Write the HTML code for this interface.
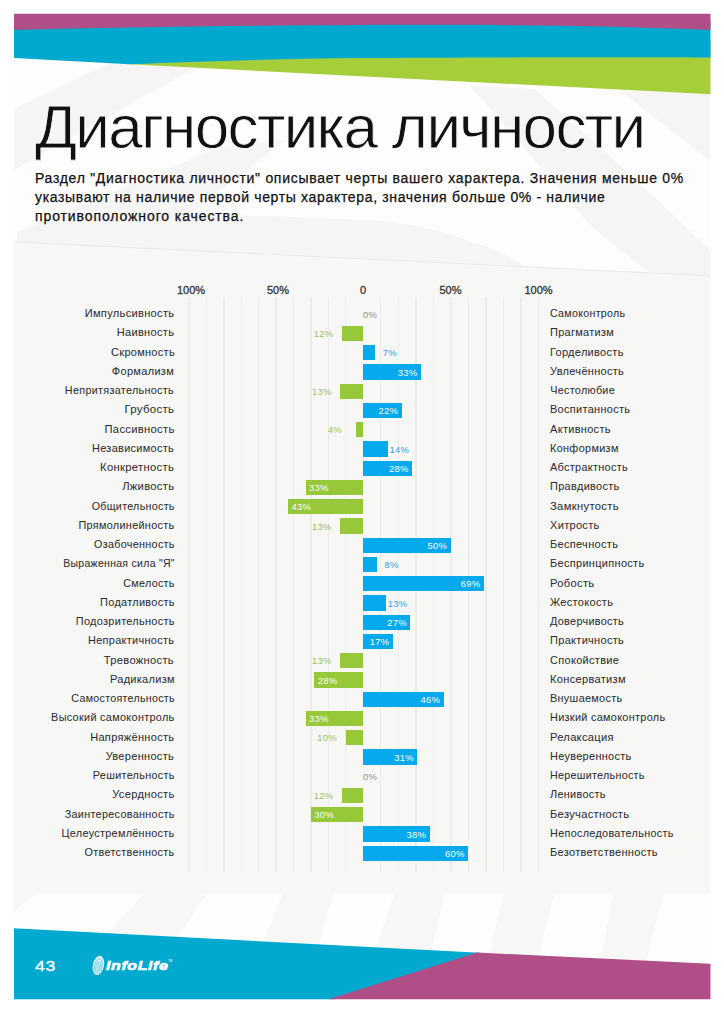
<!DOCTYPE html>
<html><head><meta charset="utf-8"><style>
*{margin:0;padding:0;box-sizing:border-box}
html,body{width:724px;height:1024px;overflow:hidden;background:#fff;font-family:"Liberation Sans",sans-serif}
#pg{position:absolute;left:14px;top:14px;width:696.5px;height:985.5px;background:#f6f6f6;overflow:hidden}
.abs{position:absolute}
svg{position:absolute;left:0;top:0}
.title{position:absolute;left:35px;top:91.5px;font-size:62px;letter-spacing:-1.65px;color:#111;-webkit-text-stroke:0.8px #fafafa;white-space:nowrap;line-height:70px}
.para{position:absolute;left:35px;top:168.7px;font-size:14px;letter-spacing:0.65px;color:#111;-webkit-text-stroke:0.25px #111;line-height:19.2px;white-space:nowrap}
.hd{position:absolute;top:282.8px;font-size:11px;font-weight:normal;-webkit-text-stroke:0.3px #333;color:#333;white-space:nowrap;line-height:14px}
.gl{position:absolute;top:296.5px;height:575px;width:1.4px;background:#ececec}
.ll{position:absolute;right:549.6px;transform-origin:100% 50%;font-size:10.8px;letter-spacing:0.3px;color:#2e2e2e;white-space:nowrap;line-height:13px;-webkit-text-stroke:0.05px #2e2e2e}
.rl{position:absolute;left:550.2px;transform-origin:0 50%;font-size:10.8px;letter-spacing:0.3px;color:#2e2e2e;white-space:nowrap;line-height:13px;-webkit-text-stroke:0.05px #2e2e2e}
.bar{position:absolute;height:15.3px}
.b{background:#05a9ec}
.g{background:#96c83a}
.pi{position:absolute;font-size:9.4px;letter-spacing:0.3px;color:#fff;white-space:nowrap;line-height:12px}
.po{position:absolute;font-size:9.4px;letter-spacing:0.3px;white-space:nowrap;line-height:12px}
.bt{color:#2e9fdc}
.gt{color:#9dbf5c}
.zt{color:#8c8c8c}
.pnum{position:absolute;left:34.5px;top:956.5px;font-size:15.2px;color:#fff;letter-spacing:0.6px;line-height:18px;transform:scaleX(1.17);transform-origin:0 0;-webkit-text-stroke:0.35px #fff}
.logo{position:absolute;left:106px;top:957.5px;font-size:13.3px;font-weight:bold;font-style:italic;color:#fff;letter-spacing:0.5px;line-height:16px;transform:scaleX(1.2);transform-origin:0 0;-webkit-text-stroke:0.6px #fff}
</style></head><body>
<svg width="724" height="1024" viewBox="0 0 724 1024">
 <!-- page bg -->
 <rect x="14" y="14" width="696.5" height="985.5" fill="#fdfdfd"/>
 <g fill="#f5f5f5">
  <polygon points="14,109 112,62 205,62 14,170"/>
  <path d="M470,86 L535,89 C580,130 620,165 646,190 C670,212 695,236 712,252 L712,280 L650,272 C630,258 605,240 584,218 C550,180 510,130 470,86 Z"/>
  <polygon points="621,91 710.5,94 710.5,161"/>
  <path d="M17,242 L17,231.8 L215,149 L285,140 C260,160 220,190 190,214 C260,216 330,218 380,221 C410,224 440,230 460,238 C490,248 510,255 525,267 Z"/>
 </g>
 <polygon points="14,241.5 710.5,275.5 710.5,999 14,999" fill="#f7f7f6"/>
 <line x1="14" y1="241.8" x2="710.5" y2="275.8" stroke="#ebebeb" stroke-width="1.2"/>
 <g fill="#fefefe">
  <polygon points="36.9,893.7 143.6,893.7 47.9,1000 -98,1000"/>
  <polygon points="206.6,893.7 282.2,893.7 241.8,1000 136.7,1000"/>
  <polygon points="333.1,893.7 394.3,893.7 358.2,1000 304.4,1000"/>
  <polygon points="444.5,893.7 503.5,893.7 479,1000 420.6,1000"/>
  <polygon points="554.3,893.7 613,893.7 593,1000 527,1000"/>
  <polygon points="663.7,893.7 730,893.7 730,1000 636,1000"/>
 </g>
 <rect x="0" y="0" width="14" height="1024" fill="#fff"/>
 <rect x="710.5" y="0" width="14" height="1024" fill="#fff"/>
 <!-- top bands -->
 <polygon points="120,40 710.5,40 710.5,94.3 130,64.3 120,63.6" fill="#a6ce3a"/>
 <path d="M14,20 L710.5,20 L710.5,57.5 C600,57 420,57.5 362,58 C280,59 200,61 130,64.3 L14,58 Z" fill="#01a9cf"/>
 <path d="M14,13.7 L710.5,13.7 L710.5,30 C600,25 450,24.5 362,25 C250,25.5 120,27 14,30 Z" fill="#b04e88"/>
 <!-- bottom band -->
 <polygon points="14,928.3 480,952.75 335,999.3 14,999.3" fill="#01a9cf"/>
 <polygon points="477,952.6 710.5,963.8 710.5,999.3 328.5,999.3" fill="#b04e88"/>
</svg>
<div class="title">Диагностика личности</div>
<div class="para"><span style="letter-spacing:0.71px">Раздел "Диагностика личности" описывает черты вашего характера. Значения меньше 0%</span><br><span style="letter-spacing:0.66px">указывают на наличие первой черты характера, значения больше 0% - наличие</span><br><span style="letter-spacing:0.9px">противоположного качества.</span></div>
<div class="gl" style="left:188.30px"></div>
<div class="gl" style="left:205.72px"></div>
<div class="gl" style="left:223.14px"></div>
<div class="gl" style="left:240.56px"></div>
<div class="gl" style="left:257.98px"></div>
<div class="gl" style="left:275.40px"></div>
<div class="gl" style="left:292.82px"></div>
<div class="gl" style="left:310.24px"></div>
<div class="gl" style="left:327.66px"></div>
<div class="gl" style="left:345.08px"></div>
<div class="gl" style="left:380.04px"></div>
<div class="gl" style="left:397.58px"></div>
<div class="gl" style="left:415.12px"></div>
<div class="gl" style="left:432.66px"></div>
<div class="gl" style="left:450.20px"></div>
<div class="gl" style="left:467.74px"></div>
<div class="gl" style="left:485.28px"></div>
<div class="gl" style="left:502.82px"></div>
<div class="gl" style="left:520.36px"></div>
<div class="gl" style="left:537.90px"></div>
<div class="hd" style="left:177px">100%</div>
<div class="hd" style="left:267px">50%</div>
<div class="hd" style="left:360px">0</div>
<div class="hd" style="left:439.5px">50%</div>
<div class="hd" style="left:524.5px">100%</div>
<div class="ll" style="top:307.20px;transform:scaleX(1.0271)">Импульсивность</div>
<div class="rl" style="top:307.20px;transform:scaleX(0.9867)">Самоконтроль</div>
<div class="po zt" style="left:363.00px;top:308.90px">0%</div>
<div class="ll" style="top:326.45px;transform:scaleX(1.0222)">Наивность</div>
<div class="rl" style="top:326.45px;transform:scaleX(1.0148)">Прагматизм</div>
<div class="bar g" style="left:342.10px;top:325.85px;width:20.90px"></div>
<div class="po gt" style="left:313.80px;top:328.15px">12%</div>
<div class="ll" style="top:345.70px;transform:scaleX(1.0148)">Скромность</div>
<div class="rl" style="top:345.70px;transform:scaleX(1.0183)">Горделивость</div>
<div class="bar b" style="left:363.00px;top:345.10px;width:12.28px"></div>
<div class="po bt" style="right:327.22px;top:347.40px">7%</div>
<div class="ll" style="top:364.95px;transform:scaleX(1.0186)">Формализм</div>
<div class="rl" style="top:364.95px;transform:scaleX(1.0183)">Увлечённость</div>
<div class="bar b" style="left:363.00px;top:364.35px;width:57.88px"></div>
<div class="pi" style="left:363.00px;width:54.38px;top:366.65px;text-align:right">33%</div>
<div class="ll" style="top:384.20px;transform:scaleX(1.0019)">Непритязательность</div>
<div class="rl" style="top:384.20px;transform:scaleX(1.0)">Честолюбие</div>
<div class="bar g" style="left:340.35px;top:383.60px;width:22.65px"></div>
<div class="po gt" style="left:312.05px;top:385.90px">13%</div>
<div class="ll" style="top:403.45px;transform:scaleX(1.0556)">Грубость</div>
<div class="rl" style="top:403.45px;transform:scaleX(1.0156)">Воспитанность</div>
<div class="bar b" style="left:363.00px;top:402.85px;width:38.59px"></div>
<div class="pi" style="left:363.00px;width:35.09px;top:405.15px;text-align:right">22%</div>
<div class="ll" style="top:422.70px;transform:scaleX(1.0369)">Пассивность</div>
<div class="rl" style="top:422.70px;transform:scaleX(1.0186)">Активность</div>
<div class="bar g" style="left:356.03px;top:422.10px;width:6.97px"></div>
<div class="po gt" style="left:327.73px;top:424.40px">4%</div>
<div class="ll" style="top:441.95px;transform:scaleX(1.0127)">Независимость</div>
<div class="rl" style="top:441.95px;transform:scaleX(1.0106)">Конформизм</div>
<div class="bar b" style="left:363.00px;top:441.35px;width:24.56px"></div>
<div class="po bt" style="right:314.94px;top:443.65px">14%</div>
<div class="ll" style="top:461.20px;transform:scaleX(1.0406)">Конкретность</div>
<div class="rl" style="top:461.20px;transform:scaleX(1.0092)">Абстрактность</div>
<div class="bar b" style="left:363.00px;top:460.60px;width:49.11px"></div>
<div class="pi" style="left:363.00px;width:45.61px;top:462.90px;text-align:right">28%</div>
<div class="ll" style="top:480.45px;transform:scaleX(1.0367)">Лживость</div>
<div class="rl" style="top:480.45px;transform:scaleX(1.0134)">Правдивость</div>
<div class="bar g" style="left:305.51px;top:479.85px;width:57.49px"></div>
<div class="pi" style="left:309.01px;top:482.15px">33%</div>
<div class="ll" style="top:499.70px;transform:scaleX(0.9915)">Общительность</div>
<div class="rl" style="top:499.70px;transform:scaleX(1.0422)">Замкнутость</div>
<div class="bar g" style="left:288.09px;top:499.10px;width:74.91px"></div>
<div class="pi" style="left:291.59px;top:501.40px">43%</div>
<div class="ll" style="top:518.95px;transform:scaleX(1.0054)">Прямолинейность</div>
<div class="rl" style="top:518.95px;transform:scaleX(1.0213)">Хитрость</div>
<div class="bar g" style="left:340.35px;top:518.35px;width:22.65px"></div>
<div class="po gt" style="left:312.05px;top:520.65px">13%</div>
<div class="ll" style="top:538.20px;transform:scaleX(0.9987)">Озабоченность</div>
<div class="rl" style="top:538.20px;transform:scaleX(1.02)">Беспечность</div>
<div class="bar b" style="left:363.00px;top:537.60px;width:87.70px"></div>
<div class="pi" style="left:363.00px;width:84.20px;top:539.90px;text-align:right">50%</div>
<div class="ll" style="top:557.45px;transform:scaleX(0.9717)">Выраженная сила &quot;Я&quot;</div>
<div class="rl" style="top:557.45px;transform:scaleX(1.0176)">Беспринципность</div>
<div class="bar b" style="left:363.00px;top:556.85px;width:14.03px"></div>
<div class="po bt" style="right:325.47px;top:559.15px">8%</div>
<div class="ll" style="top:576.70px;transform:scaleX(0.994)">Смелость</div>
<div class="rl" style="top:576.70px;transform:scaleX(1.0341)">Робость</div>
<div class="bar b" style="left:363.00px;top:576.10px;width:121.03px"></div>
<div class="pi" style="left:363.00px;width:117.53px;top:578.40px;text-align:right">69%</div>
<div class="ll" style="top:595.95px;transform:scaleX(1.0125)">Податливость</div>
<div class="rl" style="top:595.95px;transform:scaleX(1.0213)">Жестокость</div>
<div class="bar b" style="left:363.00px;top:595.35px;width:22.80px"></div>
<div class="po bt" style="right:316.70px;top:597.65px">13%</div>
<div class="ll" style="top:615.20px;transform:scaleX(1.0125)">Подозрительность</div>
<div class="rl" style="top:615.20px;transform:scaleX(1.0055)">Доверчивость</div>
<div class="bar b" style="left:363.00px;top:614.60px;width:47.36px"></div>
<div class="pi" style="left:363.00px;width:43.86px;top:616.90px;text-align:right">27%</div>
<div class="ll" style="top:634.45px;transform:scaleX(1.012)">Непрактичность</div>
<div class="rl" style="top:634.45px;transform:scaleX(1.0183)">Практичность</div>
<div class="bar b" style="left:363.00px;top:633.85px;width:29.82px"></div>
<div class="pi" style="left:363.00px;width:26.32px;top:636.15px;text-align:right">17%</div>
<div class="ll" style="top:653.70px;transform:scaleX(1.0318)">Тревожность</div>
<div class="rl" style="top:653.70px;transform:scaleX(1.0182)">Спокойствие</div>
<div class="bar g" style="left:340.35px;top:653.10px;width:22.65px"></div>
<div class="po gt" style="left:312.05px;top:655.40px">13%</div>
<div class="ll" style="top:672.95px;transform:scaleX(1.0161)">Радикализм</div>
<div class="rl" style="top:672.95px;transform:scaleX(1.025)">Консерватизм</div>
<div class="bar g" style="left:314.22px;top:672.35px;width:48.78px"></div>
<div class="pi" style="left:317.72px;top:674.65px">28%</div>
<div class="ll" style="top:692.20px;transform:scaleX(0.9874)">Самостоятельность</div>
<div class="rl" style="top:692.20px;transform:scaleX(1.0071)">Внушаемость</div>
<div class="bar b" style="left:363.00px;top:691.60px;width:80.68px"></div>
<div class="pi" style="left:363.00px;width:77.18px;top:693.90px;text-align:right">46%</div>
<div class="ll" style="top:711.45px;transform:scaleX(1.0075)">Высокий самоконтроль</div>
<div class="rl" style="top:711.45px;transform:scaleX(1.0071)">Низкий самоконтроль</div>
<div class="bar g" style="left:305.51px;top:710.85px;width:57.49px"></div>
<div class="pi" style="left:309.01px;top:713.15px">33%</div>
<div class="ll" style="top:730.70px;transform:scaleX(1.0225)">Напряжённость</div>
<div class="rl" style="top:730.70px;transform:scaleX(1.0283)">Релаксация</div>
<div class="bar g" style="left:345.58px;top:730.10px;width:17.42px"></div>
<div class="po gt" style="left:317.28px;top:732.40px">10%</div>
<div class="ll" style="top:749.95px;transform:scaleX(1.02)">Уверенность</div>
<div class="rl" style="top:749.95px;transform:scaleX(1.0127)">Неуверенность</div>
<div class="bar b" style="left:363.00px;top:749.35px;width:54.37px"></div>
<div class="pi" style="left:363.00px;width:50.87px;top:751.65px;text-align:right">31%</div>
<div class="ll" style="top:769.20px;transform:scaleX(1.0025)">Решительность</div>
<div class="rl" style="top:769.20px;transform:scaleX(0.9926)">Нерешительность</div>
<div class="po zt" style="left:363.00px;top:770.90px">0%</div>
<div class="ll" style="top:788.45px;transform:scaleX(1.0305)">Усердность</div>
<div class="rl" style="top:788.45px;transform:scaleX(1.0055)">Ленивость</div>
<div class="bar g" style="left:342.10px;top:787.85px;width:20.90px"></div>
<div class="po gt" style="left:313.80px;top:790.15px">12%</div>
<div class="ll" style="top:807.70px;transform:scaleX(1.0028)">Заинтересованность</div>
<div class="rl" style="top:807.70px;transform:scaleX(1.032)">Безучастность</div>
<div class="bar g" style="left:310.74px;top:807.10px;width:52.26px"></div>
<div class="pi" style="left:314.24px;top:809.40px">30%</div>
<div class="ll" style="top:826.95px;transform:scaleX(1.0045)">Целеустремлённость</div>
<div class="rl" style="top:826.95px;transform:scaleX(1.005)">Непоследовательность</div>
<div class="bar b" style="left:363.00px;top:826.35px;width:66.65px"></div>
<div class="pi" style="left:363.00px;width:63.15px;top:828.65px;text-align:right">38%</div>
<div class="ll" style="top:846.20px;transform:scaleX(1.0)">Ответственность</div>
<div class="rl" style="top:846.20px;transform:scaleX(1.0202)">Безответственность</div>
<div class="bar b" style="left:363.00px;top:845.60px;width:105.24px"></div>
<div class="pi" style="left:363.00px;width:101.74px;top:847.90px;text-align:right">60%</div>
<div class="pnum">43</div>
<div class="logo">InfoLife</div>
<svg width="724" height="1024" style="position:absolute;left:0;top:0"><g transform="rotate(12 98.4 965.4)"><ellipse cx="98.4" cy="965.4" rx="5.6" ry="9.8" fill="#d8f0f8"/><g fill="none" stroke="#5fc0de" stroke-width="0.7"><ellipse cx="98.4" cy="966" rx="3.8" ry="7.4"/><ellipse cx="98.4" cy="966.5" rx="2.2" ry="4.8"/><path d="M98.4,963 v6"/></g></g><text x="168" y="962" font-size="3" fill="#fff" font-family="Liberation Sans">TM</text></svg>
</body></html>
